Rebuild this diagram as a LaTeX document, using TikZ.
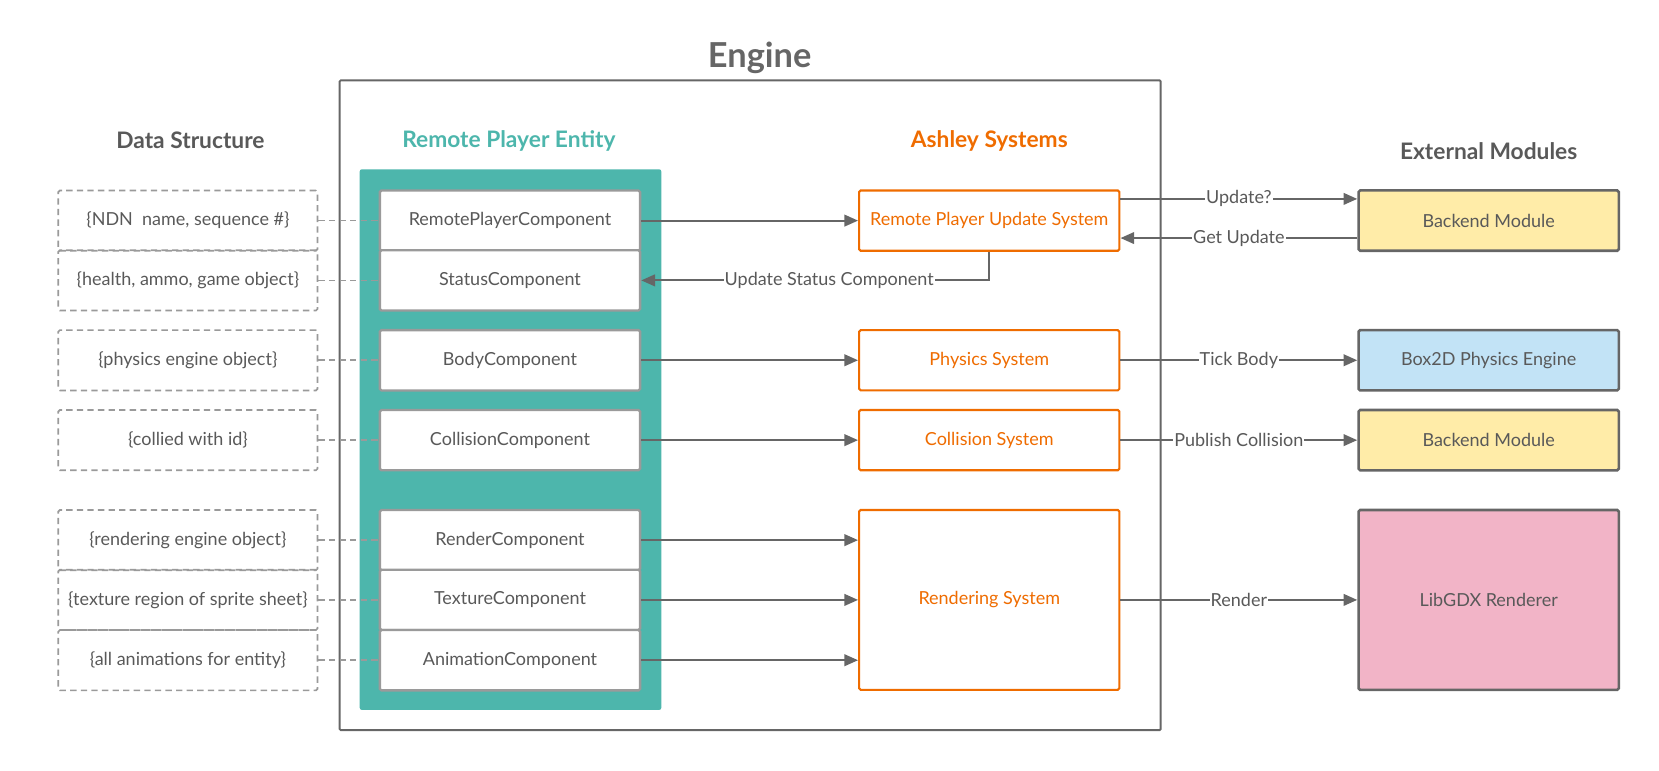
\documentclass[tikz,border=0pt]{standalone}
\usepackage{fontspec}
\setmainfont{Lato}
\usetikzlibrary{arrows.meta, positioning}

\definecolor{txtgray}{HTML}{595959}
\definecolor{linegray}{HTML}{666666}
\definecolor{boxgray}{HTML}{9A9A9A}
\definecolor{entityteal}{HTML}{4DB6AC}
\definecolor{sysorange}{HTML}{EF6C00}
\definecolor{modyellow}{HTML}{FFECA8}
\definecolor{modblue}{HTML}{C2E3F6}
\definecolor{modpink}{HTML}{F2B4C7}

\begin{document}
\begin{tikzpicture}[x = 1pt, y = -1pt, -> , > = {Triangle[length=13pt, width=11pt]},
  txt/.style = {font=\fontsize{17}{20}\selectfont},
  head/.style = {font=\bfseries\fontsize{21.5}{25}\selectfont},
  comp/.style = {txt, draw=boxgray, line width=2.2pt, fill=white, text=txtgray, minimum width=246pt, minimum height=57pt, inner sep=0pt, rounded corners=1.5pt},
  data/.style = {txt, draw=boxgray, line width=1.6pt, dash pattern=on 6pt off 4pt, text=txtgray, minimum width=245pt, minimum height=57pt, inner sep=0pt, rounded corners=1.5pt},
  sys/.style = {txt, draw=sysorange, line width=2pt, fill=white, text=sysorange, minimum width=246pt, minimum height=57pt, inner sep=0pt, rounded corners=1.5pt},
  ext/.style = {txt, draw=linegray, line width=2.4pt, text=txtgray, minimum width=246pt, minimum height=57pt, inner sep=0pt, rounded corners=1.5pt},
  link/.style = {draw=linegray, line width=2pt},
  tie/.style = {-, draw=boxgray, line width=1.6pt, dash pattern=on 6pt off 4pt},
  lbl/.style = {txt, fill=white, text=txtgray, inner sep=1pt}]

\useasboundingbox (0,0) rectangle (1568,728);

% frame and headings
\node[draw=linegray, line width=1.8pt, minimum width=776pt, minimum height=614pt, rounded corners=1pt] (engine) at (709,383) {};
\node[font=\bfseries\fontsize{32.5}{38}\selectfont, text=linegray] (title) at (718,55) {Engine};
\node[head, text=txtgray]    (datahead) at (180,133)  {Data Structure};
\node[head, text=entityteal] (enthead)  at (481,133)  {Remote Player Entity};
\node[head, text=sysorange]  (syshead)  at (935,133)  {Ashley Systems};
\node[head, text=txtgray]    (exthead)  at (1407,143) {External Modules};

% entity with its components
\node[fill=entityteal, minimum width=285pt, minimum height=511pt, rounded corners=2pt] (entity) at (482.5,415.5) {};
\node[comp] (rpc)       at (482,208.5) {RemotePlayerComponent};
\node[comp] (status)    at (482,265)   {StatusComponent};
\node[comp] (body)      at (482,340.5) {BodyComponent};
\node[comp] (collision) at (482,416)   {CollisionComponent};
\node[comp] (render)    at (482,510.5) {RenderComponent};
\node[comp] (texture)   at (482,567)   {TextureComponent};
\node[comp] (animation) at (482,624)   {AnimationComponent};

% data structure
\node[data] (rpcdata)       [left=57pt of rpc]       {\{NDN\ \ name, sequence \#\}};
\node[data] (statusdata)    [left=57pt of status]    {\{health, ammo, game object\}};
\node[data] (bodydata)      [left=57pt of body]      {\{physics engine object\}};
\node[data] (collisiondata) [left=57pt of collision] {\{collied with id\}};
\node[data] (renderdata)    [left=57pt of render]    {\{rendering engine object\}};
\node[data] (texturedata)   [left=57pt of texture]   {\{texture region of sprite sheet\}};
\node[data] (animationdata) [left=57pt of animation] {\{all animations for entity\}};

% systems
\node[sys] (rpus)       at (935,208.5) {Remote Player Update System};
\node[sys] (physics)    at (935,340.5) {Physics System};
\node[sys] (collisys)   at (935,416)   {Collision System};
\node[sys, minimum height=170pt] (rendering) at (935,567) {Rendering System};

% external modules
\node[ext, fill=modyellow] (backend)  at (1407,208.5) {Backend Module};
\node[ext, fill=modblue]   (box2d)    at (1407,340.5) {Box2D Physics Engine};
\node[ext, fill=modyellow] (backend2) at (1407,416)   {Backend Module};
\node[ext, fill=modpink, minimum height=170pt] (libgdx) at (1407,567) {LibGDX Renderer};

\coordinate (upd) at ([yshift=20.5pt]rpus.east);
\coordinate (get) at ([yshift=-16.5pt]rpus.east);

\path	(rpcdata)	edge[tie]	(rpc);
\path	(statusdata)	edge[tie]	(status);
\path	(bodydata)	edge[tie]	(body);
\path	(collisiondata)	edge[tie]	(collision);
\path	(renderdata)	edge[tie]	(render);
\path	(texturedata)	edge[tie]	(texture);
\path	(animationdata)	edge[tie]	(animation);

\path	(rpc)	edge[link]	(rpus);
\path	(body)	edge[link]	(physics);
\path	(collision)	edge[link]	(collisys);
\path	(render)	edge[link]	(render -| rendering.west);
\path	(texture)	edge[link]	(texture -| rendering.west);
\path	(animation)	edge[link]	(animation -| rendering.west);
\draw[link]	(rpus.south) |- node[lbl, pos=0.73] {Update Status Component} (status.east);

\path	(upd)	edge[link]	node[lbl] {Update?}	(upd -| backend.west);
\path	(get -| backend.west)	edge[link]	node[lbl] {Get Update}	(get);
\path	(physics)	edge[link]	node[lbl] {Tick Body}	(box2d);
\path	(collisys)	edge[link]	node[lbl] {Publish Collision}	(backend2);
\path	(rendering)	edge[link]	node[lbl] {Render}	(libgdx);

\end{tikzpicture}
\end{document}
